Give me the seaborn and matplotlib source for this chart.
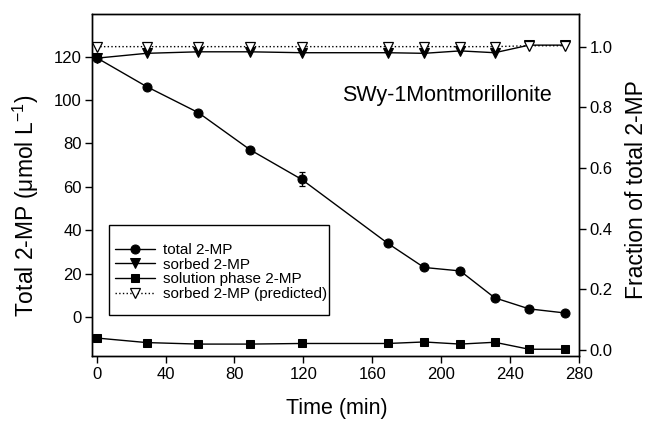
import matplotlib
matplotlib.use("Agg")
import matplotlib.pyplot as plt
from matplotlib.patches import Rectangle
import seaborn as sns
import numpy as np

# ---- data ----
time_min = [0, 29, 59, 89, 119, 169, 190, 211, 231, 251, 272]
total_2mp = [119.5, 106.2, 94.2, 77.1, 63.4, 33.9, 22.8, 21.2, 8.8, 3.7, 1.8]
total_err_time = [119]
total_err_value = [63.4]
total_err = [3.2]
sorbed_frac = [0.962, 0.978, 0.983, 0.983, 0.980, 0.980, 0.978, 0.986, 0.980, 1.005, 1.005]
solution_frac = [0.040, 0.025, 0.020, 0.020, 0.022, 0.022, 0.027, 0.020, 0.026, 0.003, 0.003]
predicted_frac = [1.0, 1.0, 1.0, 1.0, 1.0, 1.0, 1.0, 1.0, 1.0, 1.003, 1.003]

x_ticks = [0, 40, 80, 120, 160, 200, 240, 280]
left_ticks = [0, 20, 40, 60, 80, 100, 120]
right_ticks = [0.0, 0.2, 0.4, 0.6, 0.8, 1.0]

sns.set_style("ticks")
plt.rcParams["font.family"] = ["Liberation Sans", "DejaVu Sans"]
plt.rcParams["mathtext.fontset"] = "custom"
plt.rcParams["mathtext.rm"] = "Liberation Sans"
plt.rcParams["mathtext.it"] = "Liberation Sans:italic"
plt.rcParams["axes.linewidth"] = 1.0
plt.rcParams["text.color"] = "black"
plt.rcParams["axes.labelcolor"] = "black"
plt.rcParams["xtick.color"] = "black"
plt.rcParams["ytick.color"] = "black"

fig = plt.figure(figsize=(6.5, 4.22), dpi=100)
ax = fig.add_axes([0.142, 0.156, 0.749, 0.811])
ax2 = ax.twinx()

lw = 1.0
sns.lineplot(x=time_min, y=total_2mp, ax=ax, color="black", marker="o",
             markersize=6.5, markeredgecolor="black", linewidth=lw,
             label="total 2-MP", sort=False, legend=False)
ax.errorbar(total_err_time, total_err_value, yerr=total_err, fmt="none",
            ecolor="black", elinewidth=0.9, capsize=2.5, capthick=0.9)

sns.lineplot(x=time_min, y=sorbed_frac, ax=ax2, color="black", marker="v",
             markersize=7, markeredgecolor="black", linewidth=lw,
             label="sorbed 2-MP", sort=False, legend=False)
sns.lineplot(x=time_min, y=solution_frac, ax=ax2, color="black", marker="s",
             markersize=6, markeredgecolor="black", linewidth=lw,
             label="solution phase 2-MP", sort=False, legend=False)
sns.lineplot(x=time_min, y=predicted_frac, ax=ax2, color="black", marker="v",
             markersize=7, markerfacecolor="white", markeredgecolor="black",
             markeredgewidth=0.9, linewidth=lw, linestyle=":",
             label="sorbed 2-MP (predicted)", sort=False, legend=False)

ax.set_xlim(-2.5, 280)
ax.set_ylim(-18.1, 139.7)
ax2.set_ylim(-0.0198, 1.1078)
ax.set_xticks(x_ticks)
ax.set_yticks(left_ticks)
ax2.set_yticks(right_ticks)
ax2.set_yticklabels([f"{v:.1f}" for v in right_ticks])

for a in (ax, ax2):
    a.tick_params(direction="out", length=5, width=1, labelsize=12,
                  colors="black", labelcolor="black", pad=2.5)
    for s in a.spines.values():
        s.set_visible(True)
        s.set_color("black")
        s.set_linewidth(1.0)

ax.set_xlabel("Time (min)", fontsize=15.5, color="black")
ax.set_ylabel("Total 2-MP (μmol L$^{-1}$)", fontsize=16.5, color="black")
ax2.set_ylabel("Fraction of total 2-MP", fontsize=16.5, color="black")
ax.xaxis.set_label_coords(0.502, -0.122)
ax.yaxis.set_label_coords(-0.106, 0.44)
ax2.yaxis.set_label_coords(1.094, 0.488)

ax.text(0.943, 0.763, "SWy-1Montmorillonite", transform=ax.transAxes,
        ha="right", va="center", fontsize=15.5, color="black")

# legend box (drawn separately to match the reference's padding)
ax2.add_patch(Rectangle((0.034, 0.120), 0.452, 0.263, transform=ax2.transAxes,
                        facecolor="white", edgecolor="black", linewidth=1.0,
                        zorder=4))

h1, l1 = ax.get_legend_handles_labels()
h2, l2 = ax2.get_legend_handles_labels()
handles = [h for h, l in zip(h1, l1) if l == "total 2-MP"] + h2
labels = ["total 2-MP"] + l2
leg = ax2.legend(handles, labels, loc="upper left",
                 bbox_to_anchor=(0.047, 0.331), fontsize=11,
                 frameon=False, handlelength=2.6, labelspacing=0.05,
                 borderpad=0, handletextpad=0.55, borderaxespad=0,
                 labelcolor="black")
leg.set_zorder(5)

fig.savefig("out.png", dpi=100)
